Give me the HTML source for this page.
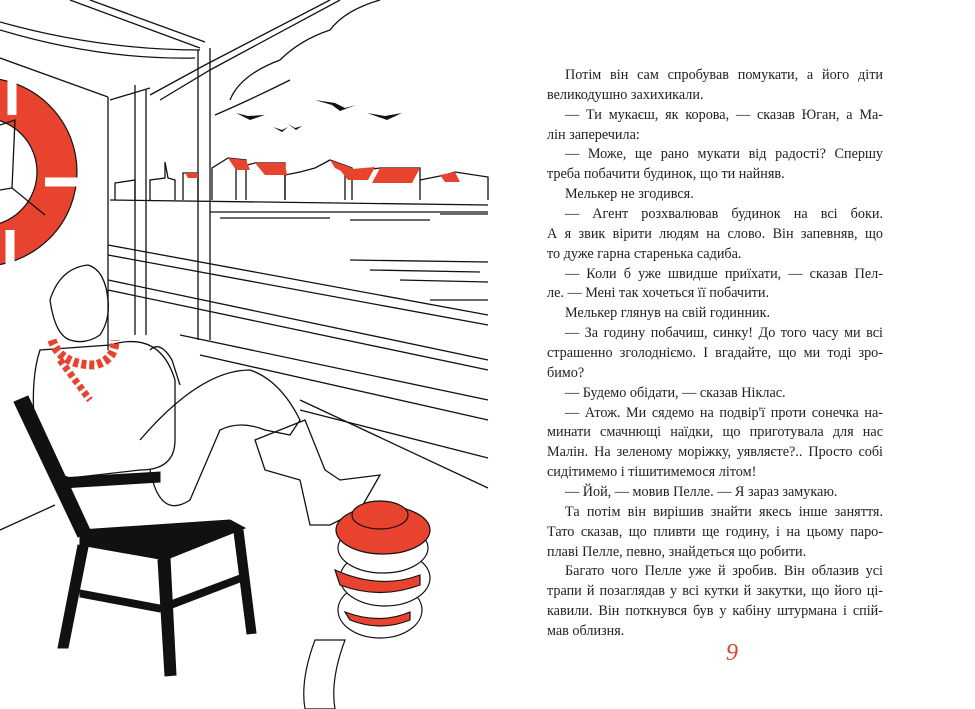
<!DOCTYPE html>
<html><head><meta charset="utf-8"><style>
html,body{margin:0;padding:0;background:#fff;}
body{width:975px;height:709px;position:relative;overflow:hidden;}
svg{position:absolute;left:0;top:0;}
.txt{position:absolute;left:547px;top:66px;width:336px;font-family:"Liberation Serif","DejaVu Serif",serif;font-size:14.2px;line-height:19.86px;color:#222;}
.txt div{height:19.86px;white-space:nowrap;text-align:justify;text-align-last:justify;}
.txt div.e{text-align:left;text-align-last:left;}
.txt div.i{padding-left:18px;}
.pn{position:absolute;left:726px;top:640px;font-family:"Liberation Serif",serif;font-style:italic;font-size:24px;color:#d9432c;}
</style></head><body>
<svg width="500" height="709" viewBox="0 0 500 709">
<g fill="none" stroke="#111" stroke-width="1.3">
<path d="M0 22 Q100 50 200 50"/><path d="M0 30 Q100 60 195 58"/>
<path d="M0 58 L108 97"/><path d="M70 0 L200 48"/><path d="M90 0 L205 42"/>
<path d="M150 95 L205 65 L330 0"/><path d="M160 100 L210 70 L340 0"/>
<path d="M110 100 L150 88"/>
<path d="M230 100 Q240 75 280 60 Q300 40 330 30 Q345 10 380 0"/>
<path d="M215 115 Q250 100 290 80"/>
<path d="M108 97 L108 350"/>
<path d="M135 85 L135 335"/><path d="M146 90 L146 335"/>
<path d="M198 50 L198 340"/><path d="M210 48 L210 340"/>
<path d="M110 200 L488 205"/><path d="M210 212 L488 212"/>
<path d="M220 218 L330 218 M350 220 L430 220 M440 214 L488 214"/>
<path d="M350 260 L488 262 M370 270 L480 272 M400 280 L488 282 M430 300 L488 300"/>
<path d="M108 245 L488 315"/><path d="M108 255 L488 325"/>
<path d="M108 280 L488 360"/><path d="M108 290 L488 370"/>
<path d="M180 335 L488 400"/><path d="M200 355 L488 420"/>
<path d="M300 400 L488 488"/><path d="M300 410 L488 458"/>
<path d="M0 530 L55 505"/>
<path d="M115 200 L115 183 L135 180 L135 200 M150 200 L150 180 L165 178 L165 162 L168 178 L175 180 L175 200"/>
<path d="M183 200 L183 173 L198 173 L198 200 M212 200 L212 168 L228 158 L246 160 L246 200 M236 200 L236 168 L255 163 L285 163 L285 200"/>
<path d="M285 200 L285 175 L300 172 L315 168 L330 160 L352 168 L352 200 M345 200 L345 173 L380 168 L420 168 L420 200 M420 200 L420 180 L445 175 L455 172 L488 177 L488 200"/>
<path d="M50 300 Q60 268 88 265 Q105 270 108 300 Q110 320 100 335 Q85 345 70 340 Q55 335 50 300Z"/>
<path d="M40 350 Q30 380 35 430 Q40 470 70 478 L140 470 Q175 470 175 440 L175 380 Q160 330 110 345 Z"/>
<path d="M150 350 Q160 340 172 360 L180 385"/>
<path d="M140 440 Q200 370 250 370 Q280 380 300 420 L290 435 L265 430 Q240 420 220 430 L190 500 Q160 520 150 470"/>
<path d="M255 440 L305 420 L325 470 L340 480 L380 475 L360 510 L330 525 L310 525 L300 480 L265 470 Z"/>
</g>
<circle cx="-17" cy="172" r="74" fill="none" stroke="#e8432e" stroke-width="40"/>
<circle cx="-17" cy="172" r="94" fill="none" stroke="#111" stroke-width="1.2"/>
<circle cx="-17" cy="172" r="54" fill="none" stroke="#111" stroke-width="1.2"/>
<g stroke="#fff" stroke-width="9"><path d="M12 80 L12 115"/><path d="M45 182 L80 182"/><path d="M10 230 L10 268"/></g>
<g fill="none" stroke="#111" stroke-width="1.3"><path d="M0 125 L15 120 L12 188 L45 215 M12 188 L0 190"/></g>
<g fill="#111"><path d="M315 100 L335 103 L345 108 L356 105 L340 111 L332 105Z"/><path d="M367 113 L385 116 L402 113 L387 120Z"/><path d="M236 113 L248 116 L265 115 L250 120Z"/><path d="M273 127 L282 130 L288 127 L282 132Z"/><path d="M288 124 L295 128 L302 126 L296 130Z"/></g>
<g fill="#e8432e"><path d="M228 158 L246 160 L250 170 L236 170Z"/><path d="M255 163 L285 163 L287 175 L265 175Z"/><path d="M330 160 L352 168 L345 173 L335 168Z"/><path d="M340 170 L375 167 L368 180 L348 180Z"/><path d="M380 168 L420 168 L412 183 L372 183Z"/><path d="M440 175 L455 172 L460 182 L445 182Z"/><path d="M185 173 L198 173 L198 178 L188 178Z"/></g>
<path d="M52 340 Q60 365 95 365 Q115 360 115 340" fill="none" stroke="#e8432e" stroke-width="9" stroke-dasharray="5 3"/>
<path d="M60 360 L90 400" fill="none" stroke="#e8432e" stroke-width="7" stroke-dasharray="5 3"/>
<g fill="#111" stroke="#111">
<path d="M14 402 L28 396 L90 530 L78 537Z"/>
<path d="M60 478 L160 472 L160 482 L62 488Z"/>
<path d="M80 530 L230 520 L245 528 L165 560 L80 545Z"/>
<path d="M78 545 L88 547 L68 648 L58 648Z"/>
<path d="M158 560 L170 558 L176 675 L165 676Z"/>
<path d="M234 532 L243 530 L256 633 L247 634Z"/>
<path d="M80 590 L160 605 L160 612 L80 597Z"/><path d="M160 605 L240 575 L240 582 L162 612Z"/>
</g>
<g stroke="#111" stroke-width="1.2">
<ellipse cx="380" cy="610" rx="42" ry="28" fill="#fff"/>
<ellipse cx="385" cy="578" rx="45" ry="28" fill="#fff"/>
<ellipse cx="383" cy="548" rx="45" ry="25" fill="#fff"/>
<path d="M335 570 Q380 590 420 575 L420 585 Q380 600 340 585Z" fill="#e8432e"/>
<path d="M345 612 Q380 625 410 612 L410 620 Q380 632 350 620Z" fill="#e8432e"/>
<ellipse cx="383" cy="530" rx="47" ry="24" fill="#e8432e"/>
<ellipse cx="380" cy="515" rx="28" ry="14" fill="#e8432e"/>
<path d="M315 640 Q300 680 305 709 L335 709 Q330 680 345 640Z" fill="#fff"/>
</g>
</svg>
<div class="txt">
<div class="i">Потім він сам спробував помукати, а його діти</div>
<div class="e">великодушно захихикали.</div>
<div class="i">— Ти мукаєш, як корова, — сказав Юган, а Ма-</div>
<div class="e">лін заперечила:</div>
<div class="i">— Може, ще рано мукати від радості? Спершу</div>
<div class="e">треба побачити будинок, що ти найняв.</div>
<div class="i e">Мелькер не згодився.</div>
<div class="i">— Агент розхвалював будинок на всі боки.</div>
<div>А я звик вірити людям на слово. Він запевняв, що</div>
<div class="e">то дуже гарна старенька садиба.</div>
<div class="i">— Коли б уже швидше приїхати, — сказав Пел-</div>
<div class="e">ле. — Мені так хочеться її побачити.</div>
<div class="i e">Мелькер глянув на свій годинник.</div>
<div class="i">— За годину побачиш, синку! До того часу ми всі</div>
<div>страшенно зголодніємо. І вгадайте, що ми тоді зро-</div>
<div class="e">бимо?</div>
<div class="i e">— Будемо обідати, — сказав Ніклас.</div>
<div class="i">— Атож. Ми сядемо на подвір'ї проти сонечка на-</div>
<div>минати смачнющі наїдки, що приготувала для нас</div>
<div>Малін. На зеленому моріжку, уявляєте?.. Просто собі</div>
<div class="e">сидітимемо і тішитимемося літом!</div>
<div class="i e">— Йой, — мовив Пелле. — Я зараз замукаю.</div>
<div class="i">Та потім він вирішив знайти якесь інше заняття.</div>
<div>Тато сказав, що пливти ще годину, і на цьому паро-</div>
<div class="e">плаві Пелле, певно, знайдеться що робити.</div>
<div class="i">Багато чого Пелле уже й зробив. Він облазив усі</div>
<div>трапи й позаглядав у всі кутки й закутки, що його ці-</div>
<div>кавили. Він поткнувся був у кабіну штурмана і спій-</div>
<div class="e">мав облизня.</div>
</div>
<div class="pn">9</div>
</body></html>
